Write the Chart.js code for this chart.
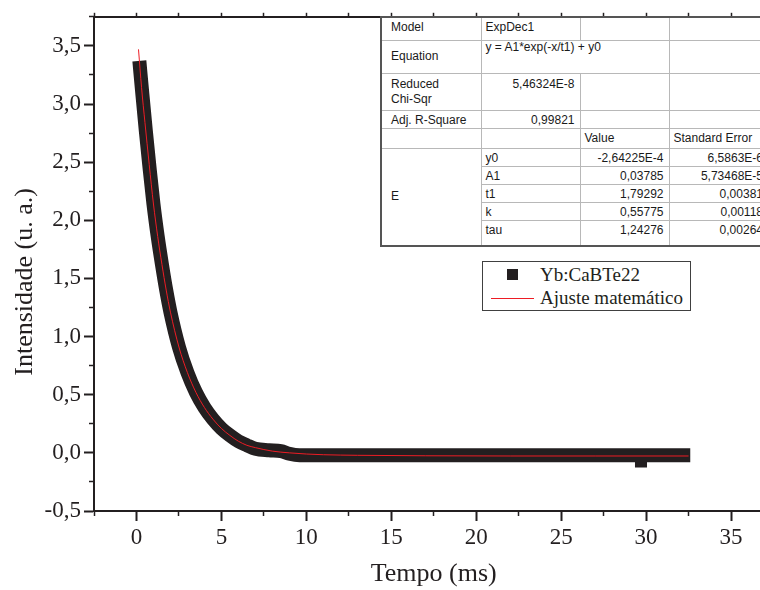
<!DOCTYPE html>
<html>
<head>
<meta charset="utf-8">
<script src="https://cdn.jsdelivr.net/npm/chart.js@4.4.1/dist/chart.umd.min.js"></script>
<style>
  html, body { margin: 0; padding: 0; background: #fff; overflow: hidden; }
  #wrap { position: relative; width: 800px; height: 590px; }
  #fitTable {
    position: absolute; left: 380px; top: 16px;
    border-collapse: collapse; table-layout: fixed;
    border: 2px solid #555;
    font-family: "Liberation Sans", Arial, sans-serif; font-size: 12px; color: #1a1a1a;
    background: #fff;
  }
  #fitTable td {
    border: 1px solid #b8b8b8; padding: 3px 5px 0 4px; line-height: 13px;
    vertical-align: top; white-space: nowrap; overflow: hidden; box-sizing: border-box;
  }
  #fitTable td.lbl { padding-left: 9px; }
  #fitTable td.mid { vertical-align: middle; padding-top: 0; }
  #fitTable td.num { text-align: right; }
  #legend {
    position: absolute; left: 482px; top: 261px; width: 207px; height: 48px;
    border: 1px solid #404040; background: #fff;
    font-family: "Liberation Serif", "Times New Roman", serif; font-size: 19px; color: #231f20;
  }
  #legend .row { position: absolute; left: 0; height: 22px; width: 100%; }
  #legend .txt { position: absolute; left: 57px; top: 0; line-height: 22px; white-space: nowrap; }
</style>
</head>
<body>
<div id="wrap">
  <canvas id="decayChart" width="800" height="590"></canvas>
  <table id="fitTable"></table>
  <div id="legend"></div>
</div>
<script>
document.addEventListener("DOMContentLoaded", function() {
    // medido (faixa de quadrados pretos)
    const dataTime = [0.17, 0.35, 0.55, 0.75, 1.0, 1.25, 1.5, 1.75, 2.0, 2.5, 3.0, 3.5, 4.0, 4.5, 5.0, 5.5, 6.0, 6.5, 7.0, 7.8, 8.5, 9.0, 9.6, 12, 16, 20, 24, 28, 32.6];
    const dataIntensity = [3.37, 3.08, 2.77, 2.48, 2.14, 1.86, 1.62, 1.40, 1.21, 0.91, 0.69, 0.52, 0.39, 0.29, 0.21, 0.15, 0.10, 0.065, 0.035, 0.022, 0.015, -0.008, -0.02, -0.02, -0.02, -0.02, -0.02, -0.02, -0.02];
    const outlierTime = [29.7];
    const outlierIntensity = [-0.075];

    // ajuste ExpDec1 (linha vermelha)
    const fitTime = [0.12, 0.3, 0.5, 0.75, 1.0, 1.25, 1.5, 1.75, 2.0, 2.5, 3.0, 3.5, 4.0, 4.5, 5.0, 5.5, 6.0, 6.5, 7.0, 8.0, 9.0, 10, 11, 13, 17, 22, 27, 32.5];
    const fitIntensity = [3.47, 3.14, 2.84, 2.48, 2.14, 1.86, 1.62, 1.40, 1.21, 0.91, 0.69, 0.52, 0.39, 0.29, 0.21, 0.15, 0.10, 0.065, 0.045, 0.015, 0.0, -0.01, -0.016, -0.021, -0.025, -0.027, -0.027, -0.027];

    const xMajorTicks = [0, 5, 10, 15, 20, 25, 30, 35];
    const xMinorTicks = [-2.5, 2.5, 7.5, 12.5, 17.5, 22.5, 27.5, 32.5, 37.5];
    const yMajorTicks = [-0.5, 0.0, 0.5, 1.0, 1.5, 2.0, 2.5, 3.0, 3.5];
    const yMinorTicks = [-0.25, 0.25, 0.75, 1.25, 1.75, 2.25, 2.75, 3.25, 3.75];

    const fitModel = 'ExpDec1';
    const fitEquation = 'y = A1*exp(-x/t1) + y0';
    const reducedChiSqr = '5,46324E-8';
    const adjRSquare = '0,99821';
    const paramNames = ['y0', 'A1', 't1', 'k', 'tau'];
    const paramValues = ['-2,64225E-4', '0,03785', '1,79292', '0,55775', '1,24276'];
    const paramErrors = ['6,5863E-6', '5,73468E-5', '0,00381', '0,00118', '0,00264'];

    const ink = '#231f20';
    const red = '#ed1c24';
    const serif = '"Liberation Serif", "Times New Roman", serif';

    const toPoints = (xs, ys) => xs.map((x, i) => ({ x: x, y: ys[i] }));
    const setTicks = values => scale => { scale.ticks = values.map(v => ({ value: v })); };
    const comma = v => v.toFixed(1).replace('.', ',');

    const yTitle = {
        id: 'yTitle',
        afterDraw(chart) {
            const ctx = chart.ctx;
            const area = chart.chartArea;
            ctx.save();
            ctx.translate(31.5, (area.top + area.bottom) / 2 + 18);
            ctx.rotate(-Math.PI / 2);
            ctx.font = '26px ' + serif;
            ctx.fillStyle = ink;
            ctx.textAlign = 'center';
            ctx.textBaseline = 'alphabetic';
            ctx.fillText('Intensidade (u. a.)', 0, 0);
            ctx.restore();
        }
    };

    const ctxDecay = document.getElementById('decayChart').getContext('2d');
    const chart = new Chart(ctxDecay, {
        type: 'line',
        data: {
            datasets: [{
                label: 'Ajuste matemático',
                data: toPoints(fitTime, fitIntensity),
                borderColor: red,
                borderWidth: 1,
                pointRadius: 0,
                cubicInterpolationMode: 'monotone',
                order: 0
            }, {
                label: 'Yb:CaBTe22',
                data: toPoints(dataTime, dataIntensity),
                borderColor: ink,
                borderWidth: 14,
                pointRadius: 0,
                cubicInterpolationMode: 'monotone',
                order: 1
            }, {
                label: 'Yb:CaBTe22 (ponto)',
                data: toPoints(outlierTime, outlierIntensity),
                showLine: false,
                pointStyle: 'rect',
                pointRadius: 8.5,
                backgroundColor: ink,
                borderWidth: 0,
                order: 2
            }]
        },
        options: {
            responsive: false,
            animation: false,
            devicePixelRatio: 1,
            layout: { padding: { left: 0, top: 10, right: 26.5, bottom: 0 } },
            plugins: {
                legend: { display: false },
                tooltip: { enabled: false }
            },
            scales: {
                x: {
                    type: 'linear',
                    position: 'bottom',
                    min: -2.5,
                    max: 37.5,
                    border: { color: ink, width: 2 },
                    grid: { drawOnChartArea: false, tickLength: 10, tickWidth: 2, tickColor: ink },
                    ticks: {
                        color: ink,
                        font: { family: serif, size: 23 },
                        padding: 3,
                        maxRotation: 0,
                        callback: v => String(v)
                    },
                    afterBuildTicks: setTicks(xMajorTicks),
                    afterFit: s => { s.height = 79; },
                    title: {
                        display: true,
                        text: 'Tempo (ms)',
                        color: ink,
                        font: { family: serif, size: 26 },
                        padding: { top: 0, bottom: 0 }
                    }
                },
                xTop: {
                    type: 'linear',
                    axis: 'x',
                    position: 'top',
                    min: -2.5,
                    max: 37.5,
                    border: { color: ink, width: 2 },
                    grid: { drawOnChartArea: false, tickLength: 4, tickWidth: 1.5, tickColor: ink },
                    ticks: { display: false },
                    afterBuildTicks: setTicks(xMajorTicks.concat(xMinorTicks)),
                    afterFit: s => { s.height = 4; }
                },
                xMinor: {
                    type: 'linear',
                    axis: 'x',
                    position: { y: -0.5 },
                    min: -2.5,
                    max: 37.5,
                    border: { display: false },
                    grid: { drawOnChartArea: false, tickLength: 5, tickWidth: 1.5, tickColor: ink },
                    ticks: { display: false },
                    afterBuildTicks: setTicks(xMinorTicks)
                },
                y: {
                    type: 'linear',
                    position: 'left',
                    min: -0.5,
                    max: 3.75,
                    border: { color: ink, width: 2 },
                    grid: { drawOnChartArea: false, tickLength: 10, tickWidth: 2, tickColor: ink },
                    ticks: {
                        color: ink,
                        font: { family: serif, size: 23 },
                        padding: 3,
                        callback: v => comma(v)
                    },
                    afterBuildTicks: setTicks(yMajorTicks),
                    afterFit: s => { s.width = 94; }
                },
                yMinor: {
                    type: 'linear',
                    axis: 'y',
                    position: { x: -2.5 },
                    min: -0.5,
                    max: 3.75,
                    border: { display: false },
                    grid: { drawOnChartArea: false, tickLength: 5, tickWidth: 1.5, tickColor: ink },
                    ticks: { display: false },
                    afterBuildTicks: setTicks(yMinorTicks)
                }
            }
        },
        plugins: [yTitle]
    });

    // tabela do ajuste (Origin)
    const heights = [23, 33, 37, 18, 20, 18, 18, 18, 18, 26];
    let rows = '';
    rows += `<tr style="height:${heights[0]}px"><td class="lbl">Model</td><td>${fitModel}</td><td></td><td></td></tr>`;
    rows += `<tr style="height:${heights[1]}px"><td class="lbl mid">Equation</td><td colspan="2" style="padding-top:0">${fitEquation}</td><td></td></tr>`;
    rows += `<tr style="height:${heights[2]}px"><td class="lbl mid" style="line-height:15px">Reduced<br>Chi-Sqr</td><td class="num" style="padding-top:4px">${reducedChiSqr}</td><td></td><td></td></tr>`;
    rows += `<tr style="height:${heights[3]}px"><td class="lbl">Adj. R-Square</td><td class="num">${adjRSquare}</td><td></td><td></td></tr>`;
    rows += `<tr style="height:${heights[4]}px"><td></td><td></td><td>Value</td><td>Standard Error</td></tr>`;
    paramNames.forEach((name, i) => {
        const first = i === 0 ? `<td class="lbl mid" rowspan="${paramNames.length}">E</td>` : '';
        rows += `<tr style="height:${heights[5 + i]}px">${first}<td>${name}</td><td class="num">${paramValues[i]}</td><td class="num">${paramErrors[i]}</td></tr>`;
    });
    document.getElementById('fitTable').innerHTML =
        '<colgroup><col style="width:100px"><col style="width:99px"><col style="width:89px"><col style="width:100px"></colgroup>' + rows;

    // legenda
    const legend = document.getElementById('legend');
    const band = chart.data.datasets[1];
    const fit = chart.data.datasets[0];
    legend.innerHTML =
        `<div class="row" style="top:2px"><div style="position:absolute;left:24px;top:5px;width:11px;height:11px;background:${band.borderColor}"></div><span class="txt">${band.label}</span></div>` +
        `<div class="row" style="top:25px"><div style="position:absolute;left:8px;top:11px;width:43px;height:1px;background:${fit.borderColor}"></div><span class="txt">${fit.label}</span></div>`;
});
</script>
</body>
</html>
